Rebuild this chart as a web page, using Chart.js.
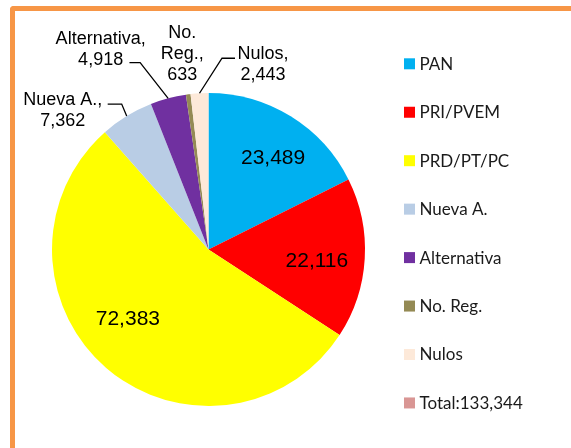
<!DOCTYPE html>
<html><head><meta charset="utf-8">
<script src="https://cdn.jsdelivr.net/npm/chart.js@4"></script>
<style>
html,body{margin:0;padding:0;background:#fff;}
#wrap{position:relative;width:571px;height:448px;overflow:hidden;}
#frame{position:absolute;left:10px;top:6px;width:700px;height:700px;border-left:5px solid #F79646;border-top:5px solid #F79646;border-top-left-radius:4px;box-sizing:border-box;}
#c{position:absolute;left:0;top:0;}
</style></head><body>
<div id="wrap"><canvas id="c" width="571" height="448"></canvas><div id="frame"></div></div>
<script>
// ---- data ----
const categories = ['PAN', 'PRI/PVEM', 'PRD/PT/PC', 'Nueva A.', 'Alternativa', 'No. Reg.', 'Nulos'];
const votes = [23489, 22116, 72383, 7362, 4918, 633, 2443];
const sliceColors = ['#00B0F0', '#FF0000', '#FFFF00', '#B9CDE5', '#7030A0', '#948A54', '#FDE9D9'];
const totalLabels = ['Total:133,344'];
const totalColors = ['#D99694'];

// ---- label placement (style) ----
const labelPlacement = [
  {inside: true, r: 0.7, dx: 7, dy: 2},
  {inside: true, r: 0.7, dx: -1, dy: 5},
  {inside: true, r: 0.7, dx: -9, dy: -13},
  {dx: -64, dy: -6, leader: [[-5, -12], [-19, -12]]},
  {dx: -67.5, dy: -49, leader: [[-28, -35.6], [-38.7, -35.6]]},
  {dx: -6, dy: -40, wrap: true},
  {dx: 63.5, dy: -29, leader: [[22.5, -35], [35.5, -35]]}
];

const fmt = v => v.toLocaleString('en-US');

const labelPlugin = {
  id: 'sliceLabels',
  afterDatasetsDraw(chart) {
    const ctx = chart.ctx;
    const meta = chart.getDatasetMeta(0);
    meta.data.forEach((arc, i) => {
      const p = labelPlacement[i];
      if (!p) return;
      const mid = (arc.startAngle + arc.endAngle) / 2;
      const R = arc.outerRadius;
      ctx.save();
      ctx.fillStyle = '#000';
      ctx.textAlign = 'center';
      ctx.textBaseline = 'middle';
      if (p.inside) {
        const x = arc.x + Math.cos(mid) * R * p.r + p.dx;
        const y = arc.y + Math.sin(mid) * R * p.r + p.dy;
        ctx.font = '21px "Liberation Sans", Arial, sans-serif';
        ctx.fillText(fmt(votes[i]), x, y);
      } else {
        const ex = arc.x + Math.cos(mid) * R;
        const ey = arc.y + Math.sin(mid) * R;
        const name = categories[i] + ',';
        const lines = p.wrap ? name.split(' ').concat([fmt(votes[i])]) : [name, fmt(votes[i])];
        const lh = 21;
        const cx = ex + p.dx, cy = ey + p.dy;
        ctx.font = '18px "Liberation Sans", Arial, sans-serif';
        lines.forEach((t, k) => {
          ctx.fillText(t, cx, cy + (k - (lines.length - 1) / 2) * lh);
        });
        if (p.leader) {
          ctx.strokeStyle = '#000';
          ctx.lineWidth = 1.3;
          ctx.beginPath();
          ctx.moveTo(ex, ey);
          p.leader.forEach(pt => ctx.lineTo(ex + pt[0], ey + pt[1]));
          ctx.stroke();
        }
      }
      ctx.restore();
    });
  }
};

const legendPlugin = {
  id: 'sideLegend',
  afterDraw(chart) {
    const ctx = chart.ctx;
    const names = categories.concat(totalLabels);
    const cols = sliceColors.concat(totalColors);
    ctx.save();
    ctx.font = '17px Lato, "Open Sans", sans-serif';
    ctx.textBaseline = 'middle';
    ctx.textAlign = 'left';
    names.forEach((n, i) => {
      const y = 63.8 + i * 48.45;
      ctx.fillStyle = cols[i];
      ctx.fillRect(404, y - 5.5, 11, 11);
      ctx.fillStyle = '#1a1a1a';
      ctx.fillText(n, 419.5, y + 0.5);
    });
    ctx.restore();
  }
};

new Chart(document.getElementById('c'), {
  type: 'pie',
  data: {
    labels: categories,
    datasets: [{
      data: votes,
      backgroundColor: sliceColors,
      borderWidth: 0
    }]
  },
  options: {
    responsive: false,
    animation: false,
    layout: {padding: {left: 52, right: 206, top: 93, bottom: 42}},
    plugins: {legend: {display: false}, tooltip: {enabled: false}}
  },
  plugins: [labelPlugin, legendPlugin]
});
</script>
</body></html>
